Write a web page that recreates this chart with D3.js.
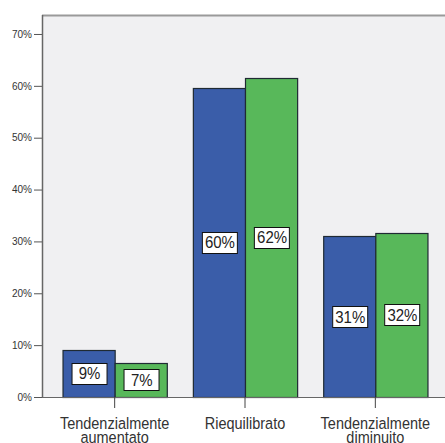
<!DOCTYPE html>
<html>
<head>
<meta charset="utf-8">
<script src="https://cdn.jsdelivr.net/npm/d3@7/dist/d3.min.js"></script>
<style>
  html, body { margin: 0; padding: 0; background: #ffffff; }
  svg { display: block; }
  text { font-family: "Liberation Sans", Arial, sans-serif; }
</style>
</head>
<body>
<svg id="chart" width="445" height="443"></svg>
<script>
// Categories and two series (shares, 0-1)
const categories = ["Tendenzialmente aumentato", "Riequilibrato", "Tendenzialmente diminuito"];
const categoryLines = [["Tendenzialmente", "aumentato"], ["Riequilibrato"], ["Tendenzialmente", "diminuito"]];
const seriesNames = ["A", "B"];
const seriesA = [0.091, 0.596, 0.310];
const seriesB = [0.066, 0.616, 0.317];
const yTicks = [0, 0.1, 0.2, 0.3, 0.4, 0.5, 0.6, 0.7];

const colors = { A: "#3A5DA9", B: "#58B85A" };

const svg = d3.select("#chart");
const plot = { left: 42, top: 15, right: 445, bottom: 397 };
const stretch = 1.12; // text is drawn slightly taller than wide

const x = d3.scaleBand().domain(categories).range([49.5, 440.5]).paddingInner(0.2).paddingOuter(0.1);
const xs = d3.scaleBand().domain(seriesNames).range([0, x.bandwidth()]);
const y = d3.scaleLinear().domain([0, 0.7366]).range([plot.bottom, plot.top]);

// plot background
svg.append("rect")
  .attr("x", plot.left).attr("y", plot.top)
  .attr("width", plot.right - plot.left).attr("height", plot.bottom - plot.top)
  .attr("fill", "#F0F0F2");

// top frame line
svg.append("line")
  .attr("x1", plot.left).attr("x2", plot.right)
  .attr("y1", plot.top + 0.5).attr("y2", plot.top + 0.5)
  .attr("stroke", "#9a9a9a").attr("stroke-width", 2);

const rows = categories.map((c, i) => ({ cat: c, i, A: seriesA[i], B: seriesB[i] }));

const groups = svg.append("g").selectAll("g").data(rows).join("g")
  .attr("transform", d => `translate(${x(d.cat)},0)`);

const bars = groups.selectAll("g.bar")
  .data(d => seriesNames.map(s => ({ s, v: d[s] })))
  .join("g").attr("class", "bar");

bars.append("rect")
  .attr("x", d => xs(d.s) + 0.5)
  .attr("y", d => Math.round(y(d.v)) + 0.5)
  .attr("width", xs.bandwidth())
  .attr("height", d => plot.bottom - Math.round(y(d.v)))
  .attr("fill", d => colors[d.s])
  .attr("stroke", "#1f2a33").attr("stroke-width", 1.2);

// value labels in white boxes at bar mid-height
const fmt = v => Math.round(v * 100) + "%";
bars.each(function(d) {
  const g = d3.select(this);
  const cx = xs(d.s) + xs.bandwidth() / 2 + 0.5;
  const cy = (y(d.v) + plot.bottom) / 2;
  const bw = 35, bh = 21;
  g.append("rect")
    .attr("x", Math.round(cx - bw / 2) + 0.5).attr("y", Math.round(cy - bh / 2) + 0.5)
    .attr("width", bw).attr("height", bh)
    .attr("fill", "#ffffff").attr("stroke", "#111").attr("stroke-width", 1);
  g.append("text")
    .attr("transform", `translate(${cx + 0.5},${cy + 6}) scale(1,${stretch})`)
    .attr("text-anchor", "middle")
    .attr("font-size", 15).attr("fill", "#222")
    .text(fmt(d.v));
});

// y axis
const yAxis = d3.axisLeft(y).tickValues(yTicks).tickFormat(d3.format(".0%")).tickSize(8).tickPadding(2);
const gy = svg.append("g").attr("transform", `translate(${plot.left},0)`).call(yAxis);
gy.select(".domain").remove();
gy.selectAll(".tick line").attr("stroke", "#555");
gy.selectAll(".tick text").attr("font-size", 10).attr("fill", "#333")
  .attr("font-family", "\"Liberation Sans\", Arial, sans-serif");
svg.append("line")
  .attr("x1", plot.left + 0.5).attr("x2", plot.left + 0.5)
  .attr("y1", plot.top).attr("y2", plot.bottom)
  .attr("stroke", "#666").attr("stroke-width", 1.5);

// x axis baseline and category ticks
svg.append("line")
  .attr("x1", plot.left).attr("x2", plot.right)
  .attr("y1", plot.bottom + 0.5).attr("y2", plot.bottom + 0.5)
  .attr("stroke", "#666").attr("stroke-width", 1);

const xAxis = d3.axisBottom(x).tickSize(11).tickFormat("");
const gx = svg.append("g").attr("transform", `translate(0,${plot.bottom})`).call(xAxis);
gx.select(".domain").remove();
gx.selectAll(".tick line").attr("stroke", "#444");

// category labels, one text per line
categories.forEach((c, i) => {
  const cx = x(c) + x.bandwidth() / 2;
  categoryLines[i].forEach((ln, k) => {
    svg.append("text")
      .attr("transform", `translate(${cx},${428.5 + k * 14}) scale(1,${stretch})`)
      .attr("text-anchor", "middle")
      .attr("font-size", 14.5).attr("fill", "#333")
      .text(ln);
  });
});
</script>
</body>
</html>
